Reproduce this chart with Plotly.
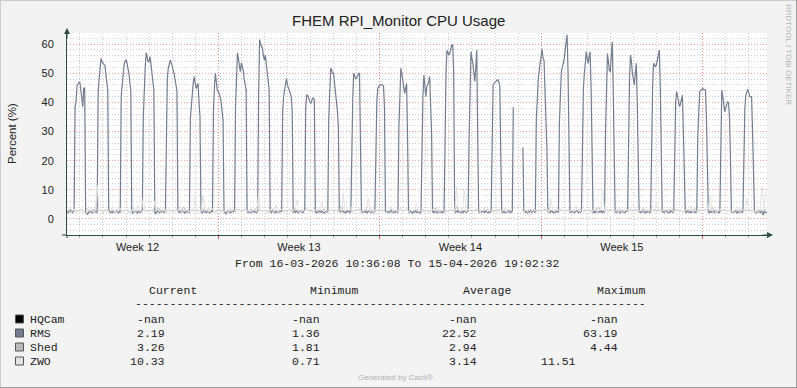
import math
import pandas as pd
import plotly.graph_objects as go

# ---------------- data ----------------
N = None
range_start = "2026-03-16 10:36:08"
range_end = "2026-04-15 19:02:32"
first_day = "2026-03-16 00:00"

# RMS CPU % — one row per day, hourly values 00h..23h
rms_hourly = [
    [N, N, N, N, N, N, N, N, N, N, 2.8, 2.5, 2.2, 2.6, 2.9, 2.4, 2.1, 2.5, 2.7, 38.7, 40, 45.6, 46.5, 46.9],
    [46.9, 44, 41, 38.5, 44.9, 44.9, 2.3, 1.9, 1.5, 2.6, 2.2, 2.8, 2.5, 2.1, 2.4, 3.0, 2.6, 2.2, 2.5, 43, 48, 52.8, 55.1, 54],
    [53.4, 53, 52.8, 50, 46, 44.2, 3.1, 2.4, 2.0, 2.6, 2.3, 2.7, 2.2, 2.5, 2.9, 2.4, 2.1, 2.6, 2.3, 42, 46, 51.7, 53, 54],
    [54.7, 53.5, 52.2, 50, 47, 44, 2.6, 2.0, 2.4, 2.8, 2.3, 2.5, 2.1, 2.7, 2.4, 2.2, 2.6, 2.9, 35, 48.8, 52, 57.1, 55, 54],
    [54, 55.7, 53, 50, 47, 44.2, 2.2, 1.8, 2.5, 2.9, 2.4, 2.1, 2.6, 2.3, 2.8, 2.5, 2.2, 2.6, 39.7, 48, 51.7, 53, 54.5, 53.5],
    [52.8, 51, 50, 48, 46.5, 44, 2.9, 2.3, 2.6, 2.2, 2.5, 2.8, 2.4, 2.0, 2.6, 2.3, 2.7, 2.4, 2.2, 34.5, 40, 44.8, 47, 48.8],
    [46, 44.8, 45.5, 46.5, 40, 35, 2.4, 2.0, 2.6, 2.9, 2.3, 2.5, 2.2, 2.7, 2.4, 2.1, 2.5, 2.8, 2.3, 37.4, 45, 50, 47, 44],
    [43.7, 43, 42, 40, 36, 34, 2.5, 2.1, 1.8, 2.4, 2.7, 2.3, 2.6, 2.2, 2.5, 2.9, 2.4, 2.6, 39.1, 47, 57, 55, 53, 50.5],
    [53.6, 52.5, 51, 48, 46, 44.2, 2.3, 2.7, 2.2, 2.5, 2.0, 2.6, 2.4, 2.8, 2.3, 2.5, 2.1, 2.6, 42, 61.6, 60, 59, 58.5, 56],
    [54.5, 56.2, 53, 49, 46, 44.2, 2.6, 2.2, 2.5, 2.9, 2.4, 2.1, 2.6, 2.3, 2.7, 2.2, 2.5, 2.8, 2.4, 36.8, 42, 44.8, 46, 48.2],
    [46, 44.8, 44, 43, 42, 36.2, 2.2, 2.6, 2.3, 2.8, 2.4, 2.1, 2.5, 2.7, 2.3, 2.6, 2.2, 2.5, 2.9, 38, 42.5, 42.5, 41.5, 41],
    [39.7, 40, 41.4, 41.4, 41, 2.4, 2.1, 2.7, 2.3, 2.5, 2.8, 2.2, 2.6, 2.4, 2.0, 2.5, 2.7, 2.3, 2.6, 34.5, 45, 51.7, 51, 50],
    [50, 47, 44, 42, 37, 31.7, 2.3, 2.7, 2.2, 2.5, 2.8, 2.4, 2.1, 2.6, 2.3, 2.9, 2.5, 2.2, 2.6, 27, 42, 50, 49, 48.2],
    [48.2, 49, 50, 50, 28.2, 2.6, 2.2, 2.5, 2.9, 2.3, 2.6, 2.1, 2.4, 2.8, 2.5, 2.2, 2.7, 2.4, 2.1, 2.5, 28.2, 40, 44.8, 45.5],
    [46, 46, 46, 46, 45.5, 38, 2.4, 2.8, 2.3, 2.6, 2.2, 2.5, 2.9, 2.4, 2.1, 2.6, 2.3, 2.7, 2.5, 2.2, 31.7, 45, 51.7, 50],
    [48, 46.5, 43.1, 45, 46.5, 28.2, 2.5, 2.2, 2.7, 2.4, 2.0, 2.6, 2.3, 2.8, 2.5, 2.2, 2.6, 2.4, 2.1, 2.5, 28.2, 42, 49.4, 46],
    [42, 45.4, 46, 47, 48.8, 40, 29.4, 2.3, 2.6, 2.2, 2.8, 2.4, 2.1, 2.5, 2.7, 2.3, 2.6, 2.2, 2.5, 2.4, 32.8, 50, 57.9, 57],
    [56.2, 57, 58, 59.7, 59.7, 50, 2.6, 2.2, 2.5, 2.9, 2.3, 2.7, 2.4, 2.1, 2.6, 2.3, 2.8, 2.4, 2.2, 2.5, 2.7, 27, 50, 57.4],
    [55, 53.4, 50, 47.1, 52, 58, 28.2, 2.4, 2.1, 2.6, 2.3, 2.7, 2.5, 2.2, 2.8, 2.4, 2.6, 2.1, 2.5, 2.3, 2.6, 31.7, 46, 46.5],
    [47, 47.2, 47.5, 47.7, 47, 45.4, 22.5, 2.5, 2.2, 2.7, 2.4, 2.1, 2.6, 2.3, 2.8, 2.5, 2.2, 2.6, 2.4, 38.3, N, N, N, N],
    [N, N, N, N, N, 24.6, 2.4, 2.7, 2.3, 2.5, 2.1, 2.6, 2.4, 2.8, 2.2, 2.5, 2.9, 2.3, 2.6, 34, 44.2, 48, 51, 54.5],
    [56, 58.2, 55, 54.5, 45, 35, 24.2, 2.3, 2.6, 2.2, 2.5, 2.8, 2.4, 2.1, 2.6, 2.3, 2.7, 2.5, 2.2, 32.8, 45, 50.5, 52, 53.4],
    [55, 58, 60.5, 63.19, 50, 18, 2.1, 2.5, 2.8, 2.3, 2.6, 2.2, 2.4, 2.9, 2.5, 2.1, 2.6, 2.3, 2.7, 37.4, 45, 50, 54, 57.4],
    [55, 53.4, 56, 57.4, 45, 21.4, 2.4, 2.1, 2.6, 2.3, 2.7, 2.5, 2.2, 2.8, 2.4, 2.6, 2.2, 2.5, 2.3, 29.4, 48, 56.8, 54, 51],
    [50.5, 56, 60.8, 45, 18, 2.2, 2.6, 2.3, 2.7, 2.4, 2.1, 2.5, 2.8, 2.3, 2.6, 2.2, 2.5, 2.9, 2.4, 31.7, 48, 56.2, 54, 50],
    [48, 46, 50, 53.4, 40, 21.4, 2.5, 2.2, 2.6, 2.3, 2.8, 2.4, 2.1, 2.6, 2.3, 2.7, 2.5, 2.2, 2.4, 29.4, 45, 53.4, 53, 52.2],
    [53, 55, 56, 58, 45, 14.5, 2.3, 2.6, 2.2, 2.5, 2.9, 2.4, 2.1, 2.6, 2.3, 2.8, 2.4, 2.2, 2.5, 27, 40, 43.7, 42, 40],
    [38.5, 39.5, 41, 42.5, 30, 8.8, 2.6, 2.2, 2.5, 2.8, 2.3, 2.6, 2.1, 2.4, 2.7, 2.3, 2.5, 2.2, 2.6, 28.2, 40, 43.7, 44, 44.5],
    [44.8, 44.5, 44.2, 44.2, 35, 22.5, 2.4, 2.1, 2.6, 2.3, 2.7, 2.5, 2.2, 2.8, 2.4, 2.6, 2.3, 2.1, 2.5, 31.7, 44.2, 42, 38, 36.8],
    [38, 39.5, 40.2, 40, 35, 21.4, 2.3, 2.6, 2.2, 2.5, 2.8, 2.4, 2.1, 2.6, 2.3, 2.7, 2.4, 2.2, 2.5, 26, 38, 42.5, 44, 44.5],
    [43.5, 42, 41.9, 41.9, 30, 14.5, 2.6, 2.3, 2.1, 2.5, 2.8, 2.4, 2.2, 2.6, 2.3, 1.36, 2.5, 2.2, 2.4, 2.19, N, N, N, N],
]

# Shed CPU % — one row per day, 2-hourly values 00h..22h
shed_2h = [
    [N, N, N, N, N, 3.1, 2.8, 3.4, 2.9, 3.2, 2.7, 3.0],
    [2.8, 3.3, 2.6, 3.0, 3.5, 2.9, 2.7, 3.2, 2.5, 3.0, 2.8, 3.1],
    [2.6, 3.0, 2.9, 3.4, 2.7, 3.1, 2.4, 2.9, 3.3, 2.8, 3.0, 2.6],
    [3.2, 2.8, 2.5, 3.0, 3.6, 2.9, 2.7, 3.1, 2.8, 3.3, 2.6, 2.9],
    [2.7, 3.1, 2.9, 2.6, 3.2, 3.8, 2.8, 3.0, 2.5, 2.9, 3.2, 2.7],
    [3.0, 2.6, 3.3, 2.8, 2.9, 3.1, 4.1, 2.7, 3.0, 2.6, 2.9, 3.2],
    [2.8, 3.2, 2.7, 3.0, 3.4, 2.6, 2.9, 3.3, 2.8, 3.1, 2.5, 2.9],
    [3.1, 2.7, 2.9, 3.5, 2.8, 3.0, 2.6, 3.2, 2.9, 2.7, 3.3, 2.8],
    [2.6, 3.0, 3.2, 2.8, 2.5, 3.4, 2.9, 3.1, 4.0, 2.8, 3.0, 2.7],
    [3.0, 2.8, 2.6, 3.1, 2.9, 3.3, 2.7, 3.0, 2.8, 3.2, 2.6, 2.9],
    [2.7, 3.2, 2.9, 2.5, 3.6, 2.8, 3.0, 2.7, 3.1, 2.9, 3.4, 2.8],
    [3.1, 2.6, 3.0, 2.8, 3.3, 2.7, 2.9, 3.5, 2.6, 3.0, 2.8, 3.2],
    [2.8, 3.0, 2.7, 3.2, 4.44, 2.9, 2.6, 3.1, 2.8, 3.3, 2.7, 3.0],
    [2.9, 3.3, 2.8, 2.6, 3.0, 3.2, 2.7, 3.4, 2.9, 2.6, 3.1, 2.8],
    [3.2, 2.7, 3.0, 2.9, 2.5, 3.1, 3.5, 2.8, 3.0, 2.7, 2.9, 3.3],
    [2.6, 3.0, 3.3, 2.8, 3.1, 2.6, 2.9, 3.2, 2.7, 3.0, 3.4, 2.8],
    [3.0, 2.8, 2.6, 3.2, 2.9, 3.7, 2.8, 3.0, 2.6, 3.1, 2.9, 2.7],
    [2.8, 3.1, 2.9, 2.7, 4.2, 3.0, 2.8, 3.3, 2.6, 2.9, 3.2, 2.8],
    [3.1, 2.7, 3.0, 3.3, 2.8, 2.6, 3.1, 2.9, 3.4, 2.7, 3.0, 2.8],
    [2.9, 3.2, 2.7, 3.0, 2.8, 3.3, 2.6, 3.1, 2.9, 3.0, N, N],
    [N, N, 3.2, 2.8, 3.1, 2.7, 3.4, 2.9, 2.6, 3.0, 2.8, 3.2],
    [2.7, 3.0, 3.3, 2.9, 3.8, 2.8, 3.1, 2.6, 3.0, 2.8, 3.2, 2.9],
    [3.0, 2.7, 2.9, 3.2, 2.8, 3.1, 2.6, 3.0, 3.4, 2.7, 2.9, 3.1],
    [2.8, 3.2, 2.6, 3.0, 2.9, 3.3, 4.0, 2.8, 3.0, 2.7, 3.1, 2.9],
    [3.1, 2.8, 3.0, 2.7, 3.2, 2.9, 2.6, 3.1, 2.8, 3.3, 2.7, 3.0],
    [2.9, 3.3, 2.7, 3.0, 2.8, 3.5, 2.9, 2.6, 3.1, 2.8, 3.0, 3.2],
    [2.7, 3.0, 3.2, 2.8, 3.1, 2.6, 3.0, 3.3, 2.9, 2.7, 3.1, 2.8],
    [3.0, 2.8, 2.6, 3.1, 2.9, 3.2, 2.7, 3.0, 3.6, 2.8, 2.9, 3.1],
    [2.8, 3.2, 2.9, 2.7, 3.0, 4.0, 2.8, 3.1, 2.6, 3.0, 2.8, 3.2],
    [3.0, 2.7, 3.1, 2.9, 2.6, 3.2, 2.8, 3.0, 3.3, 2.7, 3.0, 2.8],
    [2.9, 3.1, 2.7, 3.0, 1.81, 3.2, 2.8, 3.0, 2.9, 3.26, N, N],
]

# ZWO CPU % — one row per day, 2-hourly values 00h..22h
zwo_2h = [
    [N, N, N, N, N, 2.4, 3.1, 1.8, 2.7, 3.5, 2.2, 2.9],
    [3.3, 2.1, 2.8, 1.6, 3.0, 2.5, 3.7, 2.3, 2.9, 11.51, 2.6, 3.2],
    [2.0, 2.7, 3.4, 1.9, 2.5, 4.6, 2.2, 3.0, 2.6, 3.8, 2.1, 2.8],
    [3.1, 2.4, 1.7, 2.9, 3.5, 2.2, 4.8, 2.6, 3.0, 7.5, 2.3, 2.7],
    [2.5, 3.2, 2.0, 6.1, 2.8, 3.4, 2.1, 2.7, 3.6, 2.4, 1.9, 3.0],
    [2.7, 2.2, 3.3, 2.6, 4.2, 2.0, 2.9, 3.5, 2.3, 2.8, 3.1, 2.5],
    [7.6, 2.4, 3.0, 2.1, 8.0, 2.7, 3.4, 2.2, 2.9, 3.6, 2.5, 2.1],
    [2.9, 3.5, 2.3, 2.7, 3.1, 1.8, 4.5, 2.6, 3.2, 2.4, 2.8, 3.3],
    [2.2, 2.8, 3.6, 2.5, 3.0, 2.1, 2.7, 3.4, 2.3, 8.9, 2.6, 3.0],
    [3.1, 2.4, 2.0, 2.9, 3.7, 2.5, 4.9, 2.2, 2.8, 3.3, 2.6, 2.1],
    [2.6, 3.2, 2.3, 2.8, 3.5, 6.5, 2.7, 2.0, 3.1, 2.5, 3.8, 2.4],
    [2.8, 2.1, 3.3, 2.6, 2.9, 3.6, 5.8, 2.4, 3.0, 2.2, 2.7, 3.4],
    [2.3, 2.9, 3.1, 2.5, 2.0, 8.8, 2.6, 3.3, 2.8, 4.1, 2.4, 2.9],
    [3.2, 2.6, 2.2, 3.0, 2.7, 3.5, 7.1, 2.5, 2.9, 2.1, 3.3, 2.6],
    [2.7, 3.4, 2.5, 2.0, 3.1, 2.8, 4.4, 2.3, 3.0, 2.6, 2.9, 3.6],
    [2.4, 2.8, 3.5, 2.6, 2.2, 3.1, 2.7, 5.2, 2.5, 3.0, 2.8, 2.3],
    [3.0, 2.5, 2.1, 3.3, 2.8, 2.6, 3.9, 2.4, 2.9, 3.2, 2.2, 2.7],
    [2.6, 3.1, 2.7, 2.3, 11.0, 3.0, 2.5, 2.8, 9.9, 2.4, 3.2, 2.9],
    [2.3, 2.9, 3.4, 2.6, 2.0, 3.1, 2.7, 4.3, 2.5, 3.0, 2.8, 2.2],
    [2.8, 2.4, 3.2, 2.9, 2.5, 3.6, 2.2, 2.8, 3.3, 2.6, N, N],
    [N, N, 2.9, 2.4, 3.1, 2.7, 0.71, 3.3, 2.6, 3.0, 2.3, 2.8],
    [2.5, 3.0, 2.7, 3.4, 2.2, 7.1, 2.9, 2.5, 3.2, 2.7, 2.4, 3.1],
    [2.9, 2.3, 3.3, 2.6, 3.0, 2.4, 4.6, 2.8, 2.2, 3.1, 2.7, 2.5],
    [3.1, 2.6, 2.2, 2.9, 3.4, 2.5, 2.8, 3.2, 9.9, 2.6, 3.0, 2.4],
    [2.7, 3.2, 2.5, 3.0, 2.3, 3.6, 2.9, 2.4, 3.1, 2.6, 4.0, 2.8],
    [2.4, 2.9, 3.3, 2.6, 3.0, 2.2, 2.8, 3.5, 2.5, 3.1, 2.7, 2.3],
    [6.0, 2.8, 2.4, 3.1, 2.7, 3.3, 2.5, 2.9, 3.6, 2.3, 2.8, 3.2],
    [2.6, 3.0, 2.3, 2.8, 3.4, 2.6, 4.7, 2.4, 3.0, 2.7, 2.2, 2.9],
    [3.1, 2.5, 2.9, 3.3, 7.6, 2.7, 3.0, 2.4, 2.8, 3.5, 2.6, 3.0],
    [2.8, 3.2, 2.6, 2.9, 2.3, 3.1, 3.7, 2.5, 2.9, 3.3, 2.6, 7.0],
    [2.9, 2.4, 3.1, 2.7, 3.3, 2.6, 3.0, 11.2, 3.5, 10.33, N, N],
]

series_names = ["HQCam", "RMS", "Shed", "ZWO"]
series_colors = ["#000000", "#737D8F", "#BBBBBB", "#E2E2E2"]
legend_current = ["-nan", "2.19", "3.26", "10.33"]
legend_minimum = ["-nan", "1.36", "1.81", "0.71"]
legend_average = ["-nan", "22.52", "2.94", "3.14"]
legend_maximum = ["-nan", "63.19", "4.44", "11.51"]
legend_headers = ["Current", "Minimum", "Average", "Maximum"]

week_labels = ["Week 12", "Week 13", "Week 14", "Week 15"]
week_label_pos = ["2026-03-19 12:00", "2026-03-26 12:00", "2026-04-02 12:00", "2026-04-09 12:00"]

title_text = "FHEM RPI_Monitor CPU Usage"
y_title = "Percent (%)"
period_text = "From 16-03-2026 10:36:08 To 15-04-2026 19:02:32"
side_text = "RRDTOOL / TOBI OETIKER"
footer_text = "Generated by Cacti®"

# ---------------- build series ----------------
def flatten(rows, step_hours, per_row):
    vals = []
    for r in rows:
        assert len(r) == per_row, (len(r), r)
        vals.extend(float("nan") if v is None else v for v in r)
    times = pd.date_range(first_day, periods=len(vals), freq=f"{step_hours}h")
    return times, vals

t_rms, v_rms = flatten(rms_hourly, 1, 24)
t_shed, v_shed = flatten(shed_2h, 2, 12)
t_zwo, v_zwo = flatten(zwo_2h, 2, 12)

# ---------------- layout constants ----------------
W, H = 797, 388
L, R, T, B = 67, 30, 33, 153
PW, PH = W - L - R, H - T - B
AXIS = "#2C4D43"
FONT = "Liberation Sans, Arial, sans-serif"
MONO = "Liberation Mono, Courier New, monospace"


def px(x):
    return (x - L) / PW


def py(y):
    return (H - B - y) / PH


fig = go.Figure()
fig.add_trace(go.Scatter(x=[], y=[], mode="lines", name="HQCam",
                         line=dict(color=series_colors[0], width=1), xaxis="x2"))
fig.add_trace(go.Scatter(x=t_rms, y=v_rms, mode="lines", name="RMS",
                         line=dict(color=series_colors[1], width=1.2), connectgaps=False))
fig.add_trace(go.Scatter(x=t_shed, y=v_shed, mode="lines", name="Shed",
                         line=dict(color=series_colors[2], width=1), connectgaps=False))
fig.add_trace(go.Scatter(x=t_zwo, y=v_zwo, mode="lines", name="ZWO",
                         line=dict(color=series_colors[3], width=1), connectgaps=False))

grid_gray = "#CFCFCF"
grid_red = "rgba(240,80,80,0.55)"
dots = "1px,2px"

annotations = []


def ann(x, y, text, size, family=FONT, color="#222222", xanchor="center",
        yanchor="middle", angle=0):
    annotations.append(dict(
        x=px(x), y=py(y), xref="paper", yref="paper", text=text, showarrow=False,
        font=dict(size=size, family=family, color=color), xanchor=xanchor,
        yanchor=yanchor, textangle=angle, borderpad=0, borderwidth=0))


ann(398, 21, title_text, 15)
ann(12, 134, y_title, 11.5, angle=-90)
ann(397, 263, period_text, 11.5, family=MONO)
ann(789, 54, side_text, 8, color="#B5B5B5", angle=90)
ann(395, 377, footer_text, 8, color="#B0B0B0")

# legend table
col_center = [173, 334, 487, 621]
col_right = [165, 320, 477, 618]
row_y = [319, 333, 347, 361]
for c, hdr in zip(col_center, legend_headers):
    ann(c, 290, hdr, 11.5, family=MONO)
ann(390, 303, "-" * 74, 11.5, family=MONO)

shapes = []
for i, name in enumerate(series_names):
    ann(30, row_y[i], name, 11.5, family=MONO, xanchor="left")
    cols = [legend_current[i], legend_minimum[i], legend_average[i], legend_maximum[i]]
    for j, val in enumerate(cols):
        xr = col_right[j]
        if name == "ZWO" and j == 3:
            xr = 576
        ann(xr, row_y[i], val, 11.5, family=MONO, xanchor="right")
    shapes.append(dict(type="rect", xref="paper", yref="paper",
                       x0=px(15.5), x1=px(23.5), y0=py(row_y[i] + 4), y1=py(row_y[i] - 4),
                       fillcolor=series_colors[i], line=dict(color="#555555", width=1)))

# axis arrows
annotations.append(dict(x=px(67), y=py(28), xref="paper", yref="paper", ax=0, ay=12,
                        showarrow=True, arrowhead=2, arrowsize=1.2, arrowwidth=1,
                        arrowcolor=AXIS, text=""))
annotations.append(dict(x=px(773), y=py(235), xref="paper", yref="paper", ax=-12, ay=0,
                        showarrow=True, arrowhead=2, arrowsize=1.2, arrowwidth=1,
                        arrowcolor=AXIS, text=""))
shapes.append(dict(type="line", xref="paper", yref="paper", x0=px(62), x1=px(67),
                   y0=py(235), y1=py(235), line=dict(color=AXIS, width=1)))
shapes.append(dict(type="line", xref="paper", yref="paper", x0=px(67), x1=px(67),
                   y0=py(235), y1=py(238), line=dict(color=AXIS, width=1)))
# outer frame
shapes.append(dict(type="line", xref="paper", yref="paper", x0=px(0.5), x1=px(0.5),
                   y0=py(0), y1=py(388), line=dict(color="#CCCCCC", width=1)))
shapes.append(dict(type="line", xref="paper", yref="paper", x0=px(0), x1=px(797),
                   y0=py(0.5), y1=py(0.5), line=dict(color="#CCCCCC", width=1)))
shapes.append(dict(type="line", xref="paper", yref="paper", x0=px(796.5), x1=px(796.5),
                   y0=py(0), y1=py(388), line=dict(color="#9E9E9E", width=1)))
shapes.append(dict(type="line", xref="paper", yref="paper", x0=px(0), x1=px(797),
                   y0=py(387.5), y1=py(387.5), line=dict(color="#9E9E9E", width=1)))

fig.update_layout(
    width=W, height=H,
    margin=dict(l=L, r=R, t=T, b=B, pad=0),
    paper_bgcolor="#F3F3F3", plot_bgcolor="#FFFFFF",
    showlegend=False,
    font=dict(family=FONT, size=11, color="#222222"),
    xaxis=dict(
        type="date", range=[range_start, range_end],
        tickvals=week_label_pos, ticktext=week_labels,
        showgrid=False, zeroline=False, ticks="",
        tickfont=dict(size=11, family=FONT, color="#222222"),
        ticklabelstandoff=2,
        showline=True, linecolor=AXIS, linewidth=1,
        minor=dict(dtick=86400000, tick0=first_day, showgrid=True, gridcolor=grid_gray,
                   griddash=dots, gridwidth=1, ticks="outside", ticklen=2,
                   tickcolor="#A8A8A8"),
    ),
    xaxis2=dict(
        type="date", range=[range_start, range_end], overlaying="x", anchor="y",
        side="bottom", dtick=604800000, tick0=first_day, showticklabels=False,
        showgrid=True, gridcolor=grid_red, griddash=dots, gridwidth=1,
        ticks="outside", ticklen=3, tickcolor="rgba(220,60,60,0.8)", zeroline=False,
        showline=False,
    ),
    yaxis=dict(
        range=[-5.5, 63.8], dtick=10, tick0=0,
        showgrid=True, gridcolor=grid_red, griddash=dots, gridwidth=1,
        zeroline=False, ticks="", ticklabelstandoff=10,
        tickfont=dict(size=11, family=FONT, color="#222222"),
        showline=True, linecolor=AXIS, linewidth=1,
        minor=dict(dtick=2, tick0=0, showgrid=True, gridcolor=grid_gray,
                   griddash=dots, gridwidth=1),
    ),
    annotations=annotations,
    shapes=shapes,
)

fig.write_html(
    "out.html",
    config={"displayModeBar": False},
    post_script="document.body.style.margin='0';document.body.style.padding='0';"
                "document.body.style.overflow='hidden';",
)
